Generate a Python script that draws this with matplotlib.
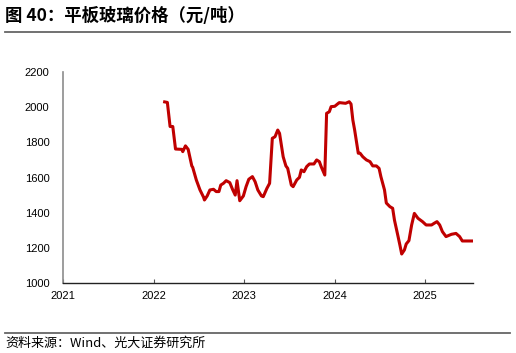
import matplotlib
matplotlib.use("Agg")
import matplotlib.pyplot as plt
from matplotlib.lines import Line2D

plt.rcParams['font.family'] = ['Noto Sans CJK SC', 'DejaVu Sans']

title = "图 40：平板玻璃价格（元/吨）"
source = "资料来源：Wind、光大证券研究所"

# decimal year positions and prices (元/吨)
t = [2022.12, 2022.15, 2022.18, 2022.21, 2022.24, 2022.31, 2022.32, 2022.35, 2022.38,
     2022.42, 2022.43, 2022.47, 2022.51, 2022.55, 2022.56, 2022.59, 2022.62, 2022.66,
     2022.69, 2022.72, 2022.74, 2022.77, 2022.80, 2022.84, 2022.87, 2022.90, 2022.92,
     2022.95, 2022.99, 2023.02, 2023.05, 2023.09, 2023.12, 2023.15, 2023.19, 2023.21,
     2023.25, 2023.28, 2023.31, 2023.34, 2023.37, 2023.39, 2023.43, 2023.46, 2023.48,
     2023.52, 2023.54, 2023.58, 2023.61, 2023.63, 2023.66, 2023.69, 2023.72, 2023.77,
     2023.80, 2023.83, 2023.85, 2023.89, 2023.91, 2023.94, 2023.96, 2024.00, 2024.04,
     2024.05, 2024.12, 2024.16, 2024.18, 2024.20, 2024.22, 2024.26, 2024.28, 2024.31,
     2024.35, 2024.39, 2024.42, 2024.46, 2024.49, 2024.51, 2024.55, 2024.57, 2024.61,
     2024.64, 2024.66, 2024.70, 2024.72, 2024.74, 2024.77, 2024.79, 2024.82, 2024.85,
     2024.88, 2024.92, 2024.97, 2025.01, 2025.07, 2025.10, 2025.13, 2025.16, 2025.19,
     2025.23, 2025.29, 2025.34, 2025.38, 2025.41, 2025.53]
price = [2030, 2027, 1890, 1890, 1762, 1760, 1747, 1780, 1760,
         1666, 1658, 1586, 1530, 1488, 1472, 1495, 1529, 1533,
         1520, 1520, 1557, 1567, 1582, 1571, 1533, 1500, 1582,
         1468, 1495, 1548, 1590, 1605, 1576, 1529, 1495, 1491,
         1538, 1567, 1823, 1832, 1870, 1851, 1718, 1666, 1652,
         1557, 1548, 1586, 1601, 1643, 1633, 1662, 1677, 1677,
         1700, 1690, 1662, 1614, 1965, 1974, 2003, 2005, 2022,
         2026, 2022, 2031, 2018, 1927, 1870, 1738, 1738, 1718,
         1700, 1690, 1666, 1666, 1652, 1605, 1529, 1455, 1434,
         1425, 1358, 1264, 1216, 1165, 1188, 1222, 1241, 1330,
         1396, 1368, 1349, 1330, 1330, 1340, 1349, 1330, 1292,
         1264, 1277, 1282, 1264, 1239, 1239]

x_ticks = [2021, 2022, 2023, 2024, 2025]
y_ticks = [1000, 1200, 1400, 1600, 1800, 2000, 2200]

fig = plt.figure(figsize=(5.16, 3.53), dpi=100)
ax = fig.add_axes([0.1227, 0.1983, 0.917 - 0.1227, 0.796 - 0.1983])
ax.plot(t, price, color='#C00000', lw=2.2, solid_joinstyle='round')
ax.set_xlim(2021, 2025.53)
ax.set_ylim(1000, 2200)
ax.set_xticks(x_ticks)
ax.set_xticklabels([str(v) for v in x_ticks])
ax.set_yticks(y_ticks)
ax.set_yticklabels([str(v) for v in y_ticks])
for s in ['top', 'right']:
    ax.spines[s].set_visible(False)
ax.spines['left'].set_color('#8c8c8c')
ax.spines['left'].set_linewidth(1.2)
ax.spines['bottom'].set_color('#222222')
ax.spines['bottom'].set_linewidth(1.0)
ax.tick_params(axis='x', direction='in', length=3, width=0.8, color='#555555',
               labelsize=8, pad=6)
ax.tick_params(axis='y', length=0, labelsize=8, pad=10)
for lab in ax.get_xticklabels() + ax.get_yticklabels():
    lab.set_family(['Liberation Sans', 'DejaVu Sans'])

fig.text(5 / 516, 1 - 16 / 353, title, fontsize=12.5, fontweight='bold',
         va='center', ha='left')
fig.add_artist(Line2D([5 / 516, 510 / 516], [1 - 32 / 353, 1 - 32 / 353],
                      color='#666666', lw=1.3, transform=fig.transFigure))
fig.add_artist(Line2D([5 / 516, 510 / 516], [1 - 333 / 353, 1 - 333 / 353],
                      color='#666666', lw=1.3, transform=fig.transFigure))
fig.text(5 / 516, 1 - 343 / 353, source, fontsize=9.4, va='center', ha='left')

fig.savefig('out.png', dpi=100)
